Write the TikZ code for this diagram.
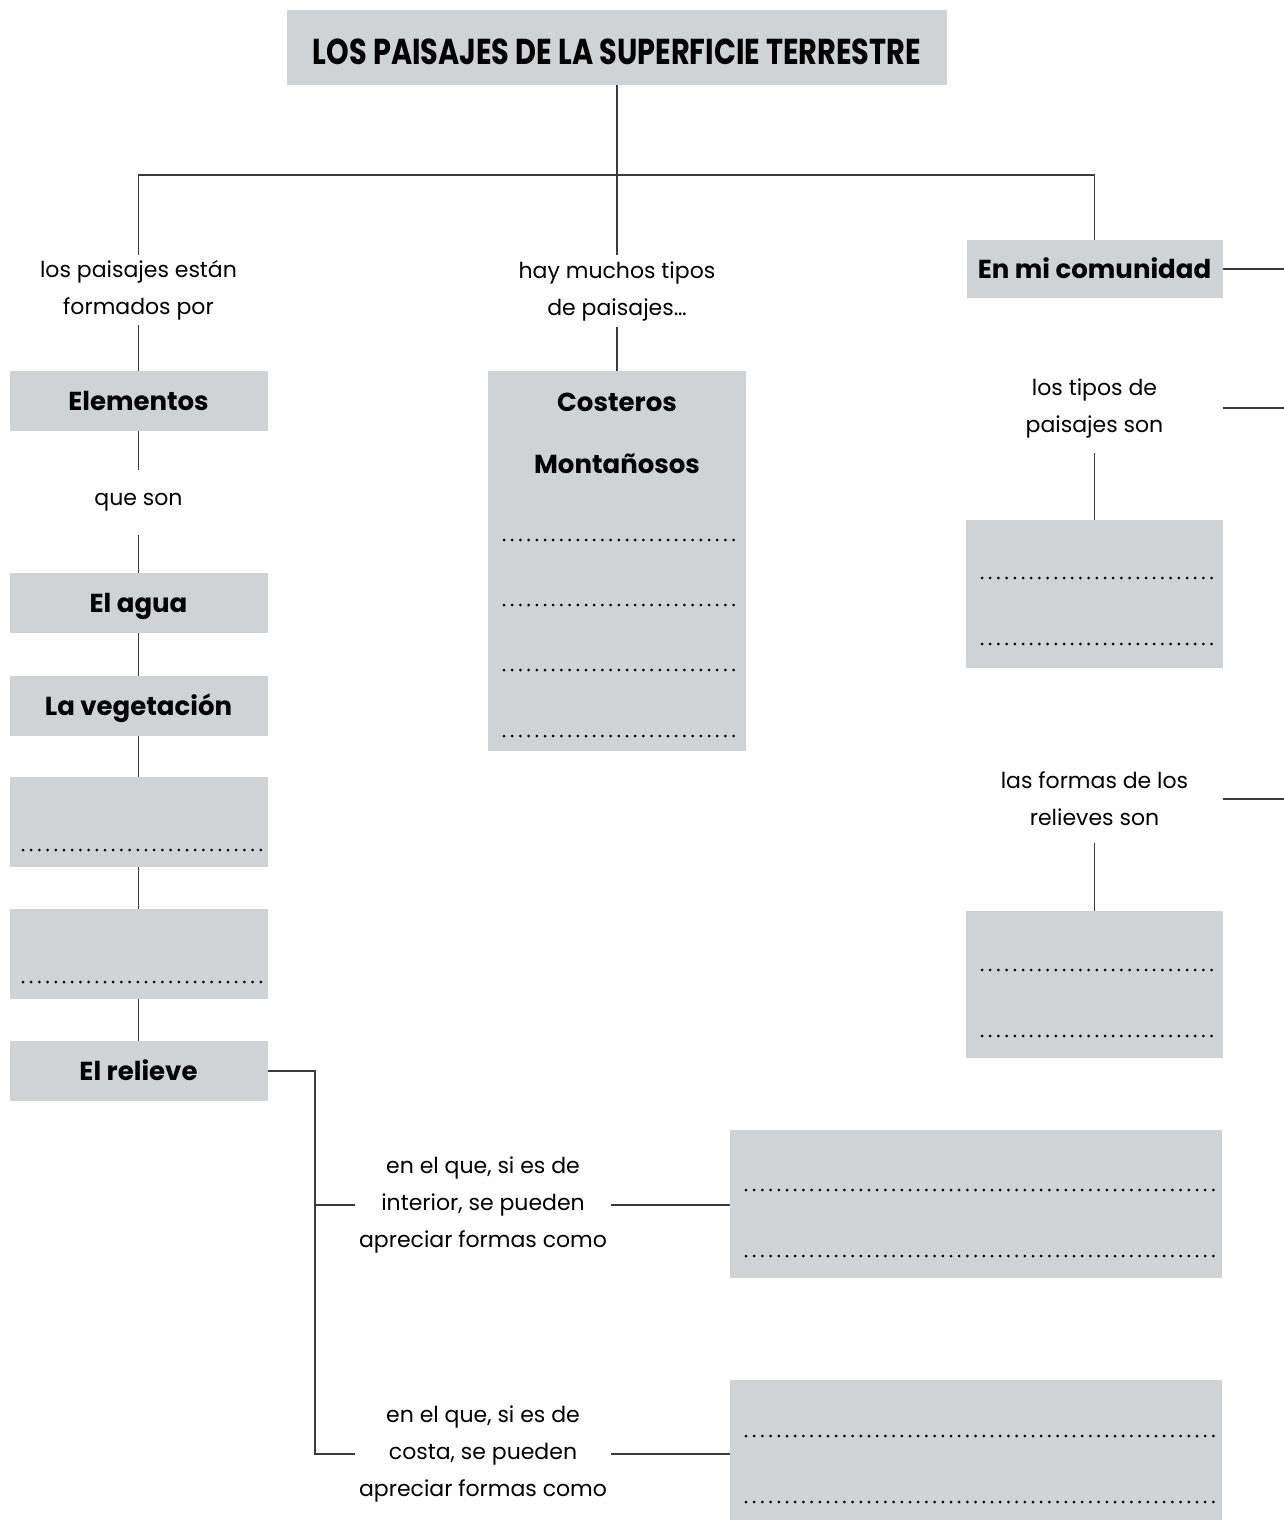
\documentclass[tikz,border=0pt]{standalone}
\usepackage{fontspec}
\setmainfont{Poppins}
\newfontfamily\titlefont[FakeStretch=0.8]{Poppins}
\definecolor{boxgray}{HTML}{D1D2D4}
\definecolor{linegray}{HTML}{3A3A3A}
\newcommand{\labfont}{\fontsize{22}{37}\selectfont}
\newcommand{\boxfont}{\bfseries\fontsize{26}{30}\selectfont}
\begin{document}
\begin{tikzpicture}[x=1pt,y=-1pt,
  gbox/.style={fill=boxgray, draw=none, inner sep=0pt},
  btext/.style={inner sep=0pt, font=\boxfont, text height=21pt, text depth=3pt},
  lab/.style={inner xsep=4pt, inner ysep=0pt, align=center, font=\labfont},
  conn/.style={draw=linegray, line width=1.3pt},
  dots/.style={draw=black, line width=3pt, line cap=round, dash pattern=on 0pt off 8.2pt}]
\useasboundingbox (0,0) rectangle (1284,1520);
\coordinate (hub) at (617,175);
\coordinate (redge) at (1284,0);
\coordinate (jx) at (315,0);
% title
\node[gbox, minimum width=660, minimum height=75] (title) at (617,47.5) {};
\node[btext, font=\titlefont\bfseries\fontsize{36}{36}\selectfont, text height=26pt, text depth=0pt] (titletxt) at (617,51) {LOS PAISAJES DE LA SUPERFICIE TERRESTRE};
% left column
\node[lab, minimum height=70] (lab1) at (138.5,290) {los paisajes están\\formados por};
\node[gbox, btext, minimum width=258, minimum height=60] (elem) at (138.5,401) {Elementos};
\node[lab, minimum height=65] (queson) at (138.5,502.5) {que son};
\node[gbox, btext, minimum width=258, minimum height=60] (agua) at (138.5,603) {El agua};
\node[gbox, btext, minimum width=258, minimum height=60] (veg) at (138.5,706) {La vegetación};
\node[gbox, minimum width=258, minimum height=90] (blank1) at (138.5,822) {};
\node[gbox, minimum width=258, minimum height=90] (blank2) at (138.5,954) {};
\node[gbox, btext, minimum width=258, minimum height=60] (rel) at (138.5,1071) {El relieve};
\draw[dots] (23,850) -- (262,850);
\draw[dots] (23,982) -- (262,982);
% middle column
\node[lab, minimum height=72] (lab2) at (617,291) {hay muchos tipos\\de paisajes…};
\node[gbox, minimum width=258, minimum height=380] (tipos) at (617,561) {};
\node[btext] (cost) at (617,402) {Costeros};
\node[btext] (mont) at (617,464) {Montañosos};
\foreach \yy in {540,605,670,736} \draw[dots] (504,\yy) -- (740,\yy);
% right column
\node[gbox, btext, minimum width=256, minimum height=58] (comm) at (1094.5,269) {En mi comunidad};
\node[lab, minimum height=90] (tiposlab) at (1094.5,408) {los tipos de\\paisajes son};
\node[gbox, minimum width=257, minimum height=148] (tiposbox) at (1094.5,594) {};
\draw[dots] (982,578) -- (1215,578);
\draw[dots] (982,644) -- (1215,644);
\node[lab, minimum height=88] (formaslab) at (1094.5,799) {las formas de los\\relieves son};
\node[gbox, minimum width=257, minimum height=147] (formasbox) at (1094.5,984.5) {};
\draw[dots] (982,970) -- (1215,970);
\draw[dots] (982,1036) -- (1215,1036);
% bottom
\node[lab] (intlab) at (483,1205) {en el que, si es de\\interior, se pueden\\apreciar formas como};
\node[gbox, minimum width=492, minimum height=148] (intbox) at (976,1204) {};
\draw[dots] (746,1190) -- (1215,1190);
\draw[dots] (746,1256) -- (1215,1256);
\node[lab] (costlab) at (483,1454) {en el que, si es de\\costa, se pueden\\apreciar formas como};
\node[gbox, minimum width=492, minimum height=142] (costbox) at (976,1451) {};
\draw[dots] (746,1436) -- (1215,1436);
\draw[dots] (746,1502) -- (1215,1502);
% connectors
\draw[conn] (title.south) -- (lab2.north);
\draw[conn] (lab1.north) -- (lab1.north |- hub) -- (comm.north |- hub) -- (comm.north);
\draw[conn] (lab1.south) -- (elem.north);
\draw[conn] (elem.south) -- (queson.north);
\draw[conn] (queson.south) -- (agua.north);
\draw[conn] (agua.south) -- (veg.north);
\draw[conn] (veg.south) -- (blank1.north);
\draw[conn] (blank1.south) -- (blank2.north);
\draw[conn] (blank2.south) -- (rel.north);
\draw[conn] (lab2.south) -- (tipos.north);
\draw[conn] (comm.east) -- (comm.east -| redge);
\draw[conn] (tiposlab.center -| comm.east) -- (tiposlab.center -| redge);
\draw[conn] (tiposlab.south) -- (tiposbox.north);
\draw[conn] (formaslab.center -| comm.east) -- (formaslab.center -| redge);
\draw[conn] (formaslab.south) -- (formasbox.north);
\draw[conn] (rel.east) -- (rel.east -| jx) |- (costlab.west);
\draw[conn] (intlab.west -| jx) -- (intlab.west);
\draw[conn] (intlab.east) -- (intlab.east -| intbox.west);
\draw[conn] (costlab.east) -- (costlab.east -| costbox.west);
\end{tikzpicture}
\end{document}
